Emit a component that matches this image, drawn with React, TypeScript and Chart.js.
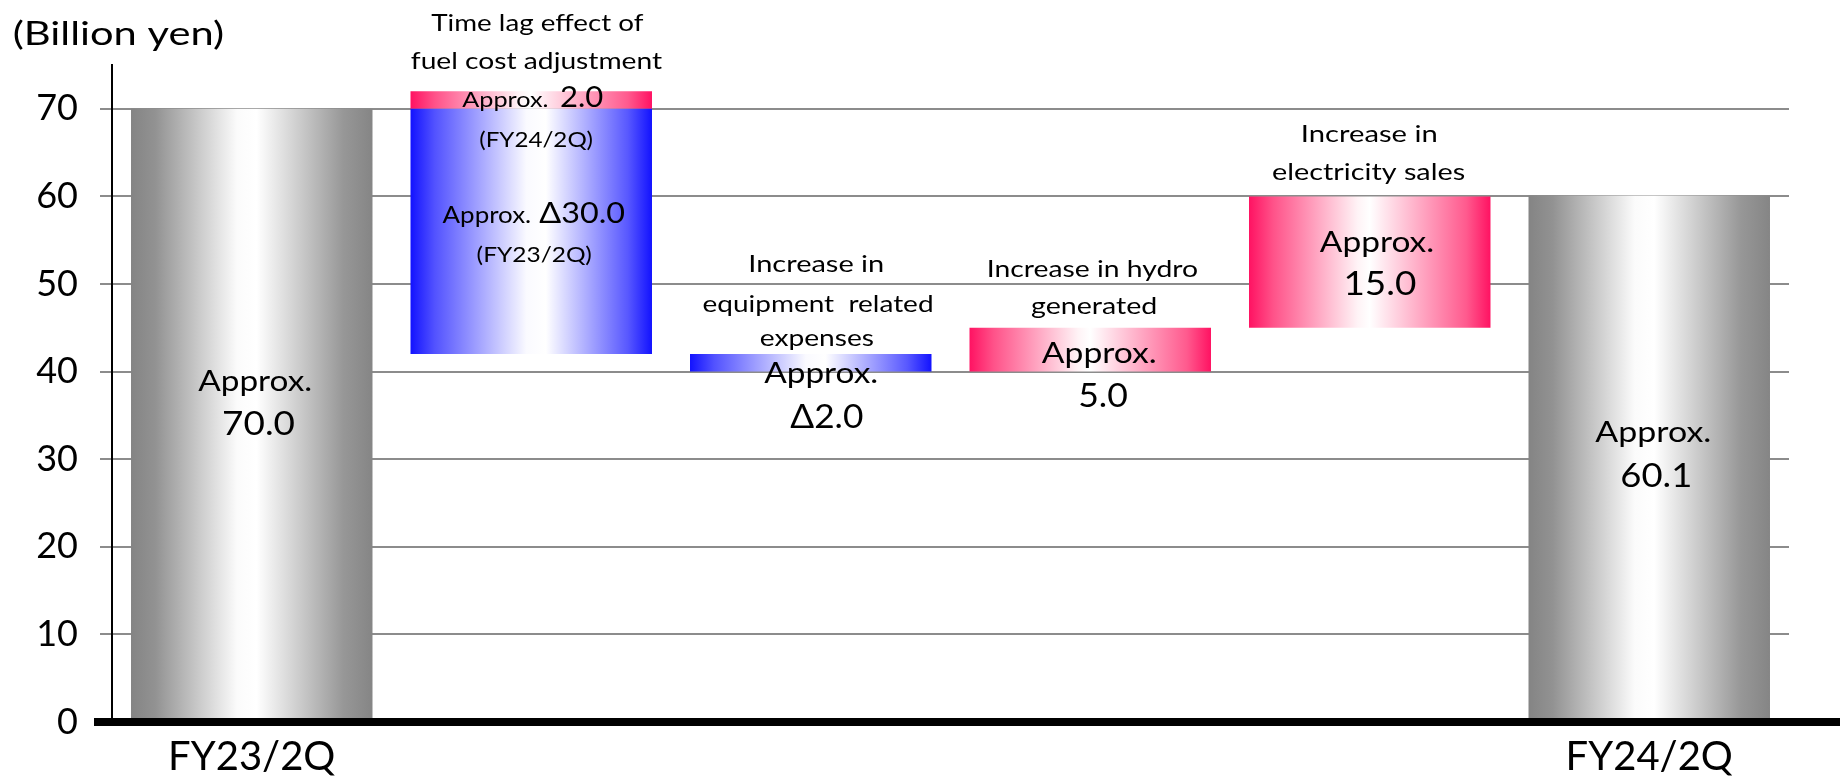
import React, { useEffect, useRef } from 'react';
import { Chart, registerables } from 'chart.js';

Chart.register(...registerables);

// ---------------- data ----------------
const categories = [
  'FY23/2Q',
  'Time lag effect of fuel cost adjustment',
  'Increase in equipment related expenses',
  'Increase in hydro generated',
  'Increase in electricity sales',
  'FY24/2Q',
];
const xTickLabels = ['FY23/2Q', '', '', '', '', 'FY24/2Q'];

// floating bars: [start, end] in billion yen
const totalBars: ([number, number] | null)[] = [[0, 70.0], null, null, null, null, [0, 60.1]];
const decreaseBars: ([number, number] | null)[] = [null, [42, 70], [40, 42], null, null, null];
const increaseBars: ([number, number] | null)[] = [null, [70, 72], null, [40, 45], [45, 60], null];

const yTickValues = [0, 10, 20, 30, 40, 50, 60, 70];
const yMax = 75;

// ---------------- layout / style ----------------
const FONT = "Lato, 'Open Sans', sans-serif";
const CAT_PCT = 0.864;

type Ann = { cat: number; v: number; dx: number; text: string; cap: number; w: number };
// v = baseline position in axis units, dx = pixel shift from bar centre
const annotations: Ann[] = [
  { cat: 0, v: 37.78, dx: 3, text: 'Approx.', cap: 21, w: 113 },
  { cat: 0, v: 32.76, dx: 7, text: '70.0', cap: 23.5, w: 71 },

  { cat: 1, v: 78.9, dx: 6.5, text: 'Time lag effect of', cap: 17.3, w: 213 },
  { cat: 1, v: 74.53, dx: 5.5, text: 'fuel cost adjustment', cap: 17.3, w: 252 },
  { cat: 1, v: 70.16, dx: -26.5, text: 'Approx.', cap: 15.7, w: 85 },
  { cat: 1, v: 70.16, dx: 51, text: '2.0', cap: 21.3, w: 42.3 },
  { cat: 1, v: 65.67, dx: 4.3, text: '(FY24/2Q)', cap: 16, w: 112.7 },
  { cat: 1, v: 56.99, dx: -44.5, text: 'Approx.', cap: 16.4, w: 88.3 },
  { cat: 1, v: 56.99, dx: 50.5, text: '\u039430.0', cap: 21, w: 85 },
  { cat: 1, v: 52.54, dx: 2.5, text: '(FY23/2Q)', cap: 16, w: 114.3 },

  { cat: 2, v: 51.33, dx: 6, text: 'Increase in', cap: 17.3, w: 132 },
  { cat: 2, v: 46.83, dx: 6.5, text: 'equipment  related', cap: 17.3, w: 229.6 },
  { cat: 2, v: 42.92, dx: 6, text: 'expenses', cap: 17.3, w: 114 },
  { cat: 2, v: 38.73, dx: 10, text: 'Approx.', cap: 21, w: 113 },
  { cat: 2, v: 33.52, dx: 16, text: '\u03942.0', cap: 24, w: 73 },

  { cat: 3, v: 50.83, dx: 3.3, text: 'Increase in hydro', cap: 17, w: 208.6 },
  { cat: 3, v: 46.57, dx: 3.3, text: 'generated', cap: 17, w: 125 },
  { cat: 3, v: 41.01, dx: 8.6, text: 'Approx.', cap: 21, w: 114 },
  { cat: 3, v: 35.99, dx: 13, text: '5.0', cap: 23.3, w: 48 },

  { cat: 4, v: 66.17, dx: 0, text: 'Increase in', cap: 17.3, w: 133 },
  { cat: 4, v: 61.86, dx: -1.3, text: 'electricity sales', cap: 17.3, w: 192.7 },
  { cat: 4, v: 53.68, dx: 6.7, text: 'Approx.', cap: 21.5, w: 113.3 },
  { cat: 4, v: 48.74, dx: 11, text: '15.0', cap: 23.3, w: 70 },

  { cat: 5, v: 31.93, dx: 3.6, text: 'Approx.', cap: 21, w: 115 },
  { cat: 5, v: 26.86, dx: 6.5, text: '60.1', cap: 24, w: 68.6 },
];

const graySt: [number, string][] = [
  [0, '#848484'], [0.1, '#929292'], [0.44, '#fbfbfb'], [0.52, '#ffffff'], [0.88, '#979797'], [1, '#858585'],
];
const blueSt: [number, string][] = [
  [0, '#1212ff'], [0.1, '#5252ff'], [0.48, '#fafaff'], [0.56, '#ffffff'], [0.9, '#5858ff'], [1, '#1212ff'],
];
const pinkSt: [number, string][] = [
  [0, '#ff1262'], [0.1, '#ff5289'], [0.45, '#fff3f6'], [0.5, '#ffffff'], [0.9, '#ff5a8e'], [1, '#ff1262'],
];

function gradient(stops: [number, string][]) {
  return (c: any) => {
    const chart = c.chart;
    const area = chart.chartArea;
    if (!area || c.type !== 'data') return stops[0][1];
    const xs = chart.scales.x;
    const cx = xs.getPixelForValue(c.dataIndex);
    const half = ((xs.width / categories.length) * CAT_PCT) / 2;
    const g = chart.ctx.createLinearGradient(cx - half, 0, cx + half, 0);
    stops.forEach(([o, col]) => g.addColorStop(o, col));
    return g;
  };
}

function drawFit(ctx: CanvasRenderingContext2D, text: string, cx: number, by: number, cap: number, w: number) {
  ctx.save();
  ctx.font = `100px ${FONT}`;
  const capRatio = ctx.measureText('H').actualBoundingBoxAscent / 100 || 0.72;
  const size = cap / capRatio;
  ctx.font = `${size}px ${FONT}`;
  const m = ctx.measureText(text);
  const inkW = m.actualBoundingBoxLeft + m.actualBoundingBoxRight;
  const sx = inkW > 0 ? w / inkW : 1;
  ctx.translate(cx, by);
  ctx.scale(sx, 1);
  ctx.textAlign = 'left';
  ctx.textBaseline = 'alphabetic';
  ctx.fillStyle = '#000';
  ctx.fillText(text, m.actualBoundingBoxLeft - inkW / 2, 0);
  ctx.restore();
}

const overlayPlugin = {
  id: 'overlay',
  afterDatasetsDraw(chart: any) {
    const { ctx, chartArea } = chart;
    const ys = chart.scales.y;
    const y0 = ys.getPixelForValue(0);
    ctx.save();
    ctx.fillStyle = '#000';
    const left = chartArea.left - 18;
    ctx.fillRect(left, y0 - 4, chart.width - left, 8);
    ctx.restore();
  },
  afterDraw(chart: any) {
    const { ctx } = chart;
    const xs = chart.scales.x;
    const ys = chart.scales.y;
    drawFit(ctx, '(Billion yen)', 118.4, chart.chartArea.top - 20, 24.5, 209);
    annotations.forEach((a) => {
      drawFit(ctx, a.text, xs.getPixelForValue(a.cat) + a.dx, ys.getPixelForValue(a.v), a.cap, a.w);
    });
  },
};

export default function App() {
  const ref = useRef<HTMLCanvasElement | null>(null);
  useEffect(() => {
    document.body.style.margin = '0';
    if (!ref.current) return;
    const common = { borderWidth: 0, barPercentage: 1, categoryPercentage: CAT_PCT };
    const chart = new Chart(ref.current, {
      type: 'bar',
      data: {
        labels: categories,
        datasets: [
          { label: 'Total', data: totalBars as any, backgroundColor: gradient(graySt), ...common },
          { label: 'Decrease', data: decreaseBars as any, backgroundColor: gradient(blueSt), ...common },
          { label: 'Increase', data: increaseBars as any, backgroundColor: gradient(pinkSt), ...common },
        ],
      },
      options: {
        responsive: false,
        animation: false,
        layout: { padding: { top: 65, right: 51, left: 0, bottom: 0 } },
        plugins: { legend: { display: false }, tooltip: { enabled: false } },
        scales: {
          x: {
            stacked: true,
            grid: { display: false },
            border: { display: false },
            ticks: {
              font: { family: FONT, size: 40 },
              color: '#000',
              padding: 3,
              maxRotation: 0,
              autoSkip: false,
              callback: (_v: any, i: number) => xTickLabels[i],
            },
            afterFit: (s: any) => {
              s.height = 56;
            },
          },
          y: {
            min: 0,
            max: yMax,
            stacked: false,
            afterBuildTicks: (s: any) => {
              s.ticks = yTickValues.map((v) => ({ value: v }));
            },
            afterFit: (s: any) => {
              s.width = 112;
            },
            grid: { color: '#8c8c8c', lineWidth: 2, drawTicks: true, tickLength: 12, tickColor: '#8c8c8c' },
            border: { display: true, color: '#000', width: 2 },
            ticks: { font: { family: FONT, size: 36 }, color: '#000', padding: 22 },
          },
        },
      },
      plugins: [overlayPlugin],
    });
    return () => chart.destroy();
  }, []);
  return (
    <div style={{ width: 1840, height: 778, overflow: 'hidden', background: '#fff' }}>
      <canvas ref={ref} width={1840} height={778} style={{ display: 'block' }} />
    </div>
  );
}
